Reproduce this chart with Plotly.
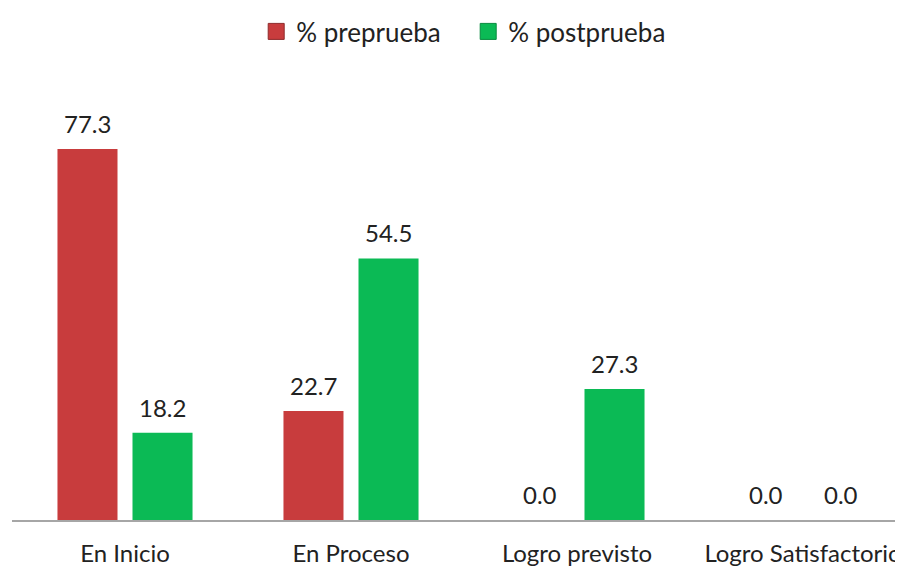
import plotly.graph_objects as go

categories = ["En Inicio", "En Proceso", "Logro previsto", "Logro Satisfactorio"]
pre_values = [77.3, 22.7, 0.0, 0.0]
post_values = [18.2, 54.5, 27.3, 0.0]
series_names = ["% preprueba", "% postprueba"]
colors = ["#C83C3D", "#0BBA55"]
edge_colors = ["#8E2A2B", "#078A3E"]

FONT = "Lato, Carlito, 'Open Sans', sans-serif"

fig = go.Figure()
for vals, name, col, edge in zip((pre_values, post_values), series_names, colors, edge_colors):
    fig.add_trace(go.Bar(x=categories, y=vals, name=name, showlegend=False,
                         marker=dict(color=col, line=dict(width=0))))
    # legend swatch (square marker)
    fig.add_trace(go.Scatter(x=[None], y=[None], mode="markers", name=name,
                             marker=dict(symbol="square", size=17, color=col,
                                         line=dict(color=edge, width=1))))

for vals, shift in ((pre_values, -37.5), (post_values, 37.5)):
    for c, v in zip(categories, vals):
        fig.add_annotation(x=c, y=v, text=f"{v:.1f}", showarrow=False,
                           xshift=shift, yanchor="bottom", yshift=9,
                           font=dict(family=FONT, size=24, color="#222222"))

fig.update_layout(
    width=903, height=568,
    margin=dict(l=4, r=8, t=72, b=56),
    paper_bgcolor="white", plot_bgcolor="white",
    barmode="group", bargap=0.336, bargroupgap=0.2,
    font=dict(family=FONT, size=24, color="#222222"),
    showlegend=True,
    legend=dict(orientation="h", x=0.512, xanchor="center", y=1.0, yref="container",
                yanchor="top", font=dict(size=26), itemwidth=30, entrywidth=167,
                traceorder="normal"),
    xaxis=dict(range=[-0.5, 3.4425], showline=True, linecolor="#A6A6A6", linewidth=1.5,
               showgrid=False, ticks="", ticklabelstandoff=11,
               tickfont=dict(family=FONT, size=24, color="#222222")),
    yaxis=dict(range=[0, 91.67], visible=False, showgrid=False),
)

fig.write_html("out.html")
